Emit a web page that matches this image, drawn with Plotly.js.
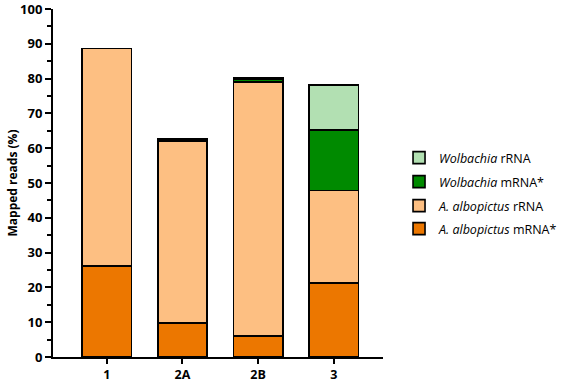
<!DOCTYPE html>
<html><head><meta charset="utf-8">
<script src="https://cdn.plot.ly/plotly-3.0.1.min.js"></script>
<style>html,body{margin:0;padding:0;background:#fff}#chart{width:566px;height:385px}</style>
</head><body><div id="chart"></div>
<script>
const categories = ["1", "2A", "2B", "3"];
const albopictusMRNA = [26.1, 9.8, 6.0, 21.3];
const albopictusRRNA = [62.5, 52.1, 73.1, 26.6];
const wolbachiaMRNA = [0, 0.4, 0.7, 17.4];
const wolbachiaRRNA = [0, 0.4, 0.3, 12.8];
const seriesNames = ["<i>A. albopictus</i> mRNA*", "<i>A. albopictus</i> rRNA", "<i>Wolbachia</i> mRNA*", "<i>Wolbachia</i> rRNA"];
const seriesColors = ["#EC7700", "#FDBF82", "#008A00", "#B2E0B2"];
const seriesValues = [albopictusMRNA, albopictusRRNA, wolbachiaMRNA, wolbachiaRRNA];
const legendIds = ["legend4", "legend3", "legend2", "legend"];

const traces = seriesValues.map((v, i) => ({
  type: "bar", x: categories, y: v, name: seriesNames[i], legend: legendIds[i],
  marker: {color: seriesColors[i], line: {color: "#000", width: 1.6}},
  width: 0.65, hoverinfo: "skip"
}));

const legendRows = [158, 182, 206, 229];
function legendAt(row) {
  return {
    xref: "container", x: 0.705, xanchor: "left",
    yref: "container", y: 1 - row / 385, yanchor: "middle",
    font: {size: 12.5}, itemwidth: 30, bgcolor: "rgba(0,0,0,0)"
  };
}

const layout = {
  width: 566, height: 385,
  margin: {l: 53, r: 183, t: 9, b: 28},
  barmode: "stack",
  paper_bgcolor: "#fff", plot_bgcolor: "#fff",
  font: {family: "'Open Sans', sans-serif", color: "#000"},
  xaxis: {
    type: "category", range: [-0.71, 3.65],
    showline: true, linewidth: 2, linecolor: "#000",
    ticks: "outside", ticklen: 5, tickwidth: 2, tickcolor: "#000",
    tickfont: {size: 12.5, weight: "bold"}, showgrid: false, zeroline: false
  },
  yaxis: {
    range: [0, 100], dtick: 10, ticklabeloverflow: "allow",
    showline: true, linewidth: 2, linecolor: "#000",
    ticks: "outside", ticklen: 6, tickwidth: 2, tickcolor: "#000",
    minor: {dtick: 5, ticks: "outside", ticklen: 4, tickwidth: 2, tickcolor: "#000"},
    tickfont: {size: 13, weight: "bold"}, showgrid: false, zeroline: false,
    title: {text: "Mapped reads (%)", font: {size: 12, weight: "bold"}, standoff: 0}
  },
  legend: legendAt(legendRows[0]),
  legend2: legendAt(legendRows[1]),
  legend3: legendAt(legendRows[2]),
  legend4: legendAt(legendRows[3]),
  showlegend: true
};
Plotly.newPlot("chart", traces, layout, {displayModeBar: false, staticPlot: true});
</script></body></html>
